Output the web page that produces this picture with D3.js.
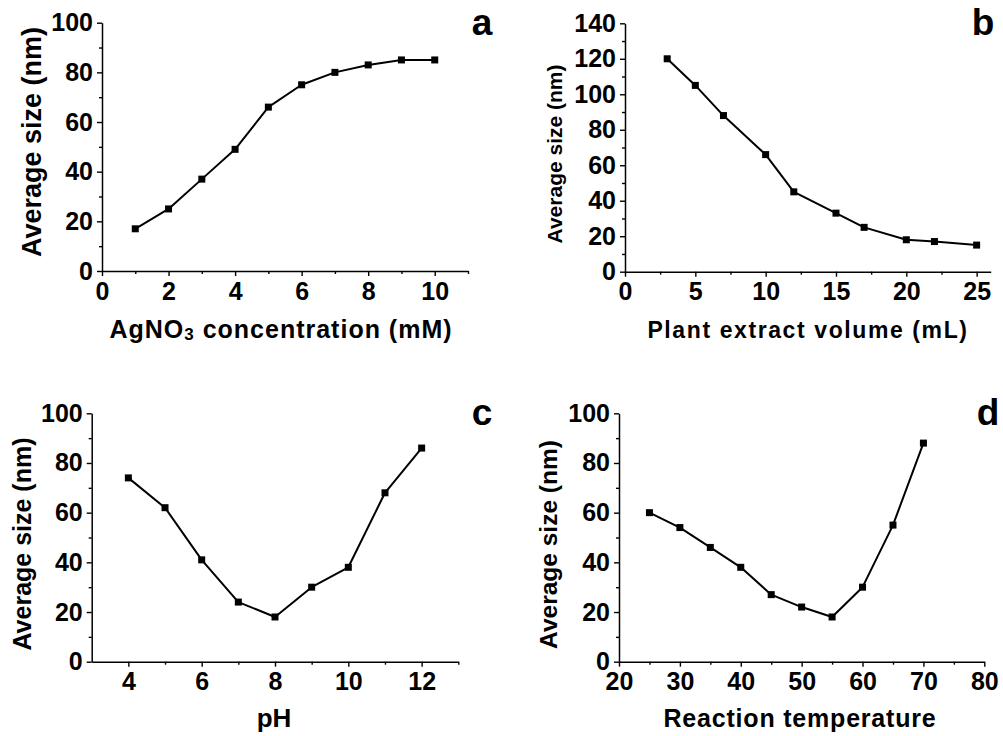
<!DOCTYPE html>
<html>
<head>
<meta charset="utf-8">
<script src="https://cdn.jsdelivr.net/npm/d3@7"></script>
<style>
  body { margin: 0; background: #fff; }
  svg text { font-family: "Liberation Sans", Arial, sans-serif; font-weight: bold; }
</style>
</head>
<body>
<div id="chart"></div>
<script>
// panel a - AgNO3 concentration
const agX = [1, 2, 3, 4, 5, 6, 7, 8, 9, 10];
const agY = [17, 25, 37, 49, 66, 75, 80, 83, 85, 85];
// panel b - plant extract volume
const volX = [3, 5, 7, 10, 12, 15, 17, 20, 22, 25];
const volY = [120, 105, 88, 66, 45, 33, 25, 18, 17, 15];
// panel c - pH
const phX = [4, 5, 6, 7, 8, 9, 10, 11, 12];
const phY = [74, 62, 41, 24, 18, 30, 38, 68, 86];
// panel d - reaction temperature
const tempX = [25, 30, 35, 40, 45, 50, 55, 60, 65, 70];
const tempY = [60, 54, 46, 38, 27, 22, 18, 30, 55, 88];

const agTicks = [0, 2, 4, 6, 8, 10];
const volTicks = [0, 5, 10, 15, 20, 25];
const phTicks = [4, 6, 8, 10, 12];
const tempTicks = [20, 30, 40, 50, 60, 70, 80];

const svg = d3.select("#chart").append("svg")
    .attr("width", 1003).attr("height", 736);

function panel(o) {
    const g = svg.append("g");
    const x = d3.scaleLinear().domain(o.xDom).range([o.left, o.right]);
    const y = d3.scaleLinear().domain(o.yDom).range([o.bottom, o.top]);

    // minor ticks first
    g.append("g")
        .attr("transform", `translate(0,${o.bottom})`)
        .call(d3.axisBottom(x).tickValues(o.xMinor).tickSize(3).tickFormat(""))
        .call(a => a.select(".domain").remove());
    g.append("g")
        .attr("transform", `translate(${o.left},0)`)
        .call(d3.axisLeft(y).tickValues(o.yMinor).tickSize(3).tickFormat(""))
        .call(a => a.select(".domain").remove());

    const xa = g.append("g")
        .attr("transform", `translate(0,${o.bottom})`)
        .call(d3.axisBottom(x).tickValues(o.xTicks).tickSize(5).tickSizeOuter(0).tickPadding(6));
    const ya = g.append("g")
        .attr("transform", `translate(${o.left},0)`)
        .call(d3.axisLeft(y).tickValues(o.yTicks).tickSize(5).tickSizeOuter(0).tickPadding(4));

    [xa, ya].forEach(a => {
        a.attr("font-family", null).attr("font-size", null);
        a.selectAll("text").attr("font-size", 25).attr("fill", "#000");
        a.select(".domain").attr("stroke", "#000").attr("stroke-width", 1.5);
    });
    g.selectAll(".tick line").attr("stroke", "#000").attr("stroke-width", 1.4);

    const line = d3.line().x((d, i) => x(o.xs[i])).y(d => y(d));
    g.append("path")
        .datum(o.ys)
        .attr("fill", "none")
        .attr("stroke", "#000")
        .attr("stroke-width", 2)
        .attr("stroke-linejoin", "round")
        .attr("d", line);

    g.selectAll("rect.pt")
        .data(o.ys)
        .join("rect")
        .attr("class", "pt")
        .attr("x", (d, i) => x(o.xs[i]) - 3.5)
        .attr("y", d => y(d) - 3.5)
        .attr("width", 7).attr("height", 7)
        .attr("fill", "#000");

    // y title
    svg.append("text")
        .attr("transform", `translate(${o.yTitleX},${o.yTitleY}) rotate(-90)`)
        .attr("text-anchor", "middle")
        .attr("dy", "0.35em")
        .attr("font-size", o.yTitleSize)
        .text("Average size (nm)");

    // x title
    const xt = svg.append("text")
        .attr("x", o.xTitleX)
        .attr("y", o.xTitleY)
        .attr("text-anchor", "middle")
        .attr("font-size", o.xTitleSize)
        .attr("letter-spacing", o.xTitleSpacing || 0);
    o.xTitle(xt);

    // panel letter
    svg.append("text")
        .attr("x", o.letterX).attr("y", o.letterY)
        .attr("text-anchor", "middle")
        .attr("font-size", 37)
        .text(o.letter);
}

panel({
    xs: agX, ys: agY, xDom: [0, 11], yDom: [0, 100],
    left: 102, right: 468, top: 22.7, bottom: 271,
    xTicks: agTicks, xMinor: [1, 3, 5, 7, 9, 11],
    yTicks: [0, 20, 40, 60, 80, 100], yMinor: [10, 30, 50, 70, 90],
    yTitleX: 32, yTitleY: 142, yTitleSize: 27,
    xTitleX: 281, xTitleY: 338, xTitleSize: 25, xTitleSpacing: 1,
    xTitle: t => {
        t.append("tspan").text("AgNO");
        t.append("tspan").attr("font-size", 17).attr("dy", 2).text("3");
        t.append("tspan").attr("dy", -2).text(" concentration (mM)");
    },
    letter: "a", letterX: 482, letterY: 35
});

panel({
    xs: volX, ys: volY, xDom: [0, 26], yDom: [0, 140],
    left: 625, right: 990.7, top: 23.3, bottom: 271.7,
    xTicks: volTicks, xMinor: [2.5, 7.5, 12.5, 17.5, 22.5],
    yTicks: [0, 20, 40, 60, 80, 100, 120, 140], yMinor: [10, 30, 50, 70, 90, 110, 130],
    yTitleX: 555, yTitleY: 154, yTitleSize: 21,
    xTitleX: 808, xTitleY: 338, xTitleSize: 23, xTitleSpacing: 1.6,
    xTitle: t => t.text("Plant extract volume (mL)"),
    letter: "b", letterX: 983, letterY: 35
});

panel({
    xs: phX, ys: phY, xDom: [3, 13], yDom: [0, 100],
    left: 91.7, right: 458.3, top: 413.3, bottom: 661.7,
    xTicks: phTicks, xMinor: [5, 7, 9, 11, 13],
    yTicks: [0, 20, 40, 60, 80, 100], yMinor: [10, 30, 50, 70, 90],
    yTitleX: 22, yTitleY: 544, yTitleSize: 25,
    xTitleX: 274, xTitleY: 727, xTitleSize: 26,
    xTitle: t => t.text("pH"),
    letter: "c", letterX: 482, letterY: 425
});

panel({
    xs: tempX, ys: tempY, xDom: [20, 80], yDom: [0, 100],
    left: 619, right: 984.3, top: 413.3, bottom: 661.7,
    xTicks: tempTicks, xMinor: [25, 35, 45, 55, 65, 75],
    yTicks: [0, 20, 40, 60, 80, 100], yMinor: [10, 30, 50, 70, 90],
    yTitleX: 548, yTitleY: 544.5, yTitleSize: 24.5,
    xTitleX: 800, xTitleY: 727, xTitleSize: 25, xTitleSpacing: 0.8,
    xTitle: t => t.text("Reaction temperature"),
    letter: "d", letterX: 988, letterY: 425
});
</script>
</body>
</html>
